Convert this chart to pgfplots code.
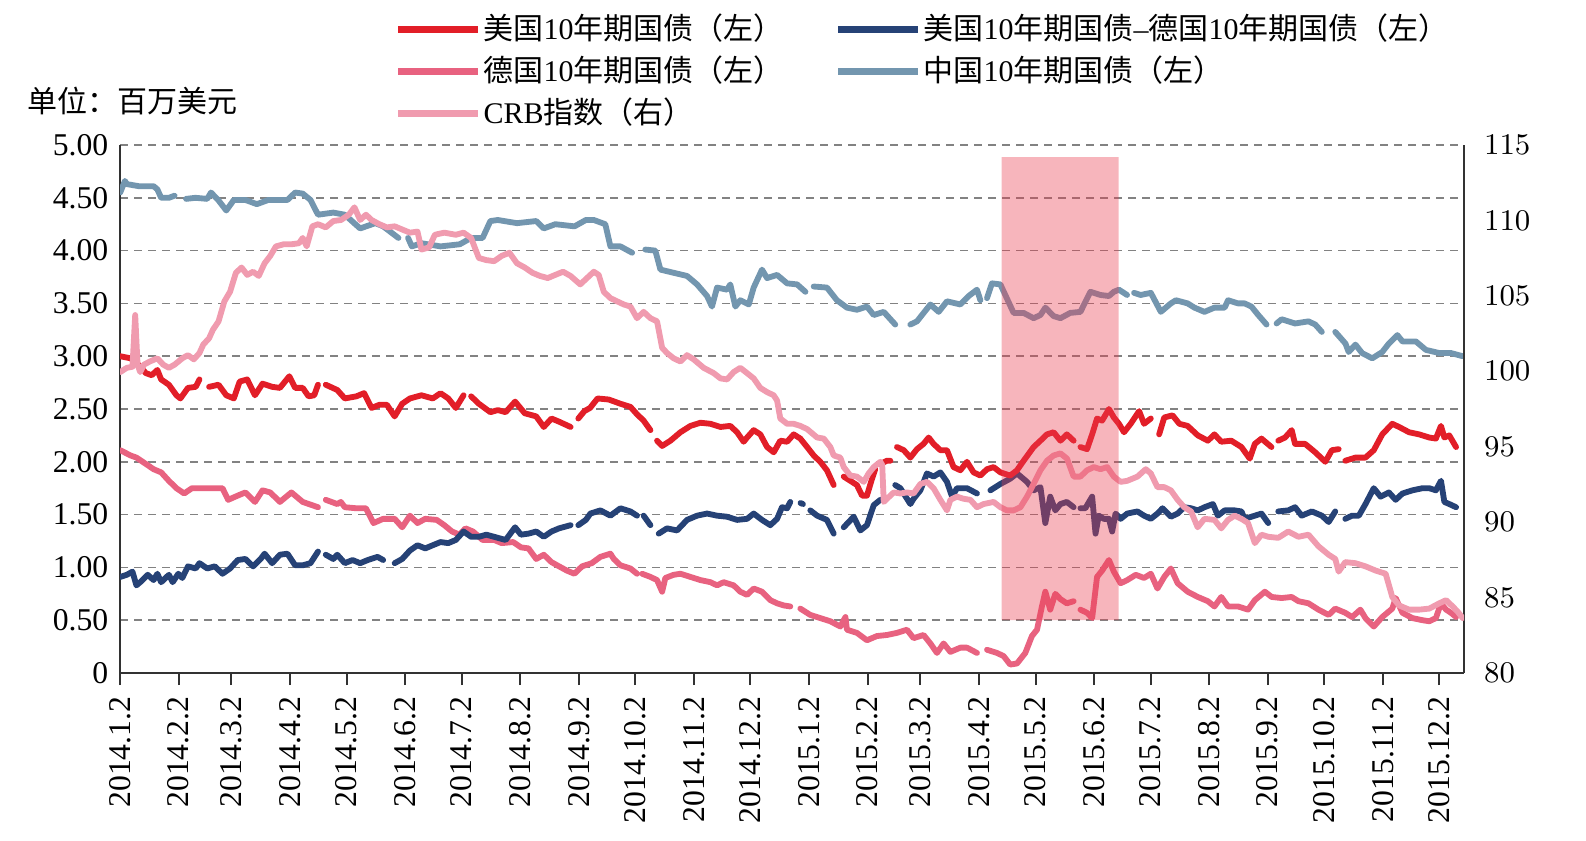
\documentclass[border=0pt]{standalone}
\usepackage{pgfplots}
\pgfplotsset{compat=1.18}
\usepackage{fontspec}
\setmainfont{Liberation Serif}
\newfontfamily\cjk{Noto Sans CJK SC}
\newcommand{\zh}[1]{{\cjk #1}}

\definecolor{usred}{RGB}{226,30,40}
\definecolor{dered}{RGB}{232,98,128}
\definecolor{crbpink}{RGB}{240,155,175}
\definecolor{spreadblue}{RGB}{38,66,118}
\definecolor{cnblue}{RGB}{115,150,175}
\definecolor{shade}{RGB}{235,60,80}
\definecolor{axisgray}{RGB}{50,50,50}
\definecolor{gridgray}{RGB}{130,130,130}

% x = calendar days counted from 2014-01-02
\pgfplotstableread{
x y
0.1 4.55
2.6 4.66
3.6 4.63
10 4.61
17.8 4.61
19.8 4.58
21.8 4.50
25.9 4.50
28.9 4.52
31 nan
35 4.49
40 4.50
46.2 4.49
48.2 4.55
52 4.48
56.3 4.38
60.3 4.48
66.4 4.48
72.5 4.44
78.6 4.48
88.7 4.48
92.8 4.55
96.8 4.54
100.9 4.48
104.9 4.34
113 4.36
119.1 4.34
127.2 4.21
135.3 4.26
139.4 4.23
147.5 4.12
150 nan
152.6 4.12
154.6 4.04
159.7 4.07
169.8 4.04
180 4.06
186 4.12
192.1 4.12
196.2 4.28
200.2 4.29
210.3 4.26
220.5 4.28
224.5 4.21
230.6 4.25
240.8 4.23
246.8 4.29
251 4.29
257.1 4.25
259.8 4.04
265.1 4.04
271.3 3.98
275 nan
278.3 4.01
283.6 4.00
286.3 3.82
293.3 3.79
300.4 3.76
305.7 3.68
311 3.57
313.6 3.47
316.3 3.65
321.6 3.63
323.3 3.68
326 3.47
328.6 3.53
333.1 3.49
335.7 3.65
340.1 3.82
342.8 3.74
348.1 3.77
353.4 3.69
358.7 3.68
363.1 3.61
365 nan
367.5 3.66
374.5 3.65
379.8 3.53
385.1 3.46
390.4 3.44
395.7 3.47
399.3 3.39
404.6 3.42
410.7 3.30
415 nan
418.7 3.30
422.2 3.33
429.3 3.49
433.7 3.42
438.1 3.52
445.2 3.49
449.6 3.57
454 3.63
455.8 3.53
457.5 nan
459.3 3.55
461.9 3.69
466.4 3.68
473.4 3.41
478.7 3.41
484 3.36
487.6 3.39
490.2 3.46
494.6 3.38
498.2 3.36
503.4 3.41
508.8 3.42
514.1 3.61
519.4 3.58
523.9 3.57
526.5 3.61
529.2 3.63
533.5 3.58
535.5 nan
537.2 3.60
540.7 3.58
546.1 3.60
551.4 3.42
556.7 3.50
559.4 3.53
565.6 3.50
569.2 3.46
574.5 3.42
579.8 3.46
585.2 3.46
587 3.53
592.3 3.50
595.8 3.50
599.4 3.47
603 3.39
607.4 3.30
610 nan
612.7 3.31
615.4 3.35
622.5 3.31
629.6 3.33
633.2 3.30
636.7 3.23
640 nan
643.8 3.23
649.2 3.12
650.9 3.04
654.5 3.11
658 3.03
663.4 2.98
668.7 3.04
672.2 3.12
676.7 3.20
679.4 3.14
686.5 3.14
691.8 3.06
698.9 3.03
705.1 3.03
711.3 3.00
}\cnbond

\pgfplotstableread{
x y
0.15 2.11
5.6 2.06
8.7 2.04
13.7 1.98
17.8 1.93
21.8 1.90
25.9 1.82
29.9 1.75
34 1.70
38.1 1.75
44.1 1.75
50.2 1.75
54.3 1.75
57.3 1.64
62.4 1.68
66.4 1.71
71.5 1.62
75.5 1.73
79.6 1.71
84.7 1.62
90.8 1.71
96.8 1.62
104.9 1.57
107 nan
109 1.64
115.1 1.60
117 1.62
119.1 1.57
125.2 1.56
130.3 1.56
134.3 1.42
139.4 1.46
145.5 1.46
149.5 1.38
153.6 1.49
157.6 1.42
161.7 1.46
167.8 1.45
171.8 1.40
175.9 1.34
179.9 1.31
183 1.37
187 1.34
192.1 1.26
198.2 1.26
202.2 1.23
208.3 1.24
212.4 1.19
216.4 1.18
220.5 1.08
224.5 1.12
228.6 1.05
232.6 1.01
236.7 0.97
240.7 0.94
244.8 1.01
249.9 1.04
254.5 1.10
259.8 1.13
261.6 1.08
265.1 1.02
270.4 0.99
273.9 0.94
275.2 nan
276.6 0.94
281 0.91
284.5 0.88
287.2 0.77
288.9 0.90
293.3 0.93
296.9 0.94
302.2 0.91
307.5 0.88
312.8 0.86
316.3 0.83
319.8 0.86
325.1 0.83
328.6 0.77
332.2 0.74
335.7 0.80
340.1 0.77
344.5 0.69
348.1 0.66
351.6 0.64
355.1 0.63
357.5 nan
360.4 0.61
365.7 0.55
371 0.52
376.3 0.49
381.6 0.44
384.3 0.53
385.1 0.41
390.4 0.38
395.7 0.31
401 0.35
406.3 0.36
411.6 0.38
416.9 0.41
420.4 0.33
425.7 0.36
429.3 0.28
432.8 0.19
436.3 0.28
439.9 0.20
445.2 0.24
448.7 0.24
454 0.19
456.5 nan
459.3 0.22
464.6 0.19
468.1 0.16
471.6 0.08
475.2 0.09
479.6 0.19
483.1 0.35
485.8 0.41
488.4 0.63
490.2 0.77
492.8 0.60
495.5 0.75
498.2 0.70
501.6 0.66
505.2 0.68
507 nan
508.8 0.60
512.3 0.57
515 0.52
517.6 0.91
520.3 0.97
523.9 1.07
526.5 0.96
530.1 0.85
533.6 0.88
538.1 0.93
542.5 0.90
546.1 0.94
549.6 0.80
553.2 0.91
556.7 0.99
560.3 0.85
565.6 0.77
571 0.72
576.3 0.68
579.8 0.63
583.4 0.72
587 0.63
592.3 0.63
597.6 0.60
601.2 0.69
606.5 0.77
610.1 0.72
615.4 0.71
620.7 0.72
624.3 0.68
629.6 0.66
634.9 0.60
640.3 0.55
643.8 0.61
649.1 0.57
652.7 0.53
657.1 0.60
659.8 0.52
664.2 0.44
668.7 0.53
674 0.61
675.8 0.71
679.4 0.57
684.7 0.52
690 0.50
693.6 0.49
697.1 0.52
699.8 0.66
702.5 0.60
705.1 0.57
707.8 0.53
}\debond

\pgfplotstableread{
x y
0.15 0.91
3.6 0.93
6.6 0.96
8.7 0.83
10.7 0.86
14.7 0.93
17.8 0.88
19.8 0.94
21.8 0.86
25.9 0.93
27.9 0.86
30.9 0.94
33 0.90
36 1.01
40.1 0.99
42.1 1.04
46.2 0.99
50.2 1.01
54.3 0.94
58.3 0.99
62.4 1.07
66.4 1.08
70.5 1.01
74.5 1.08
76.6 1.13
80.6 1.04
84.7 1.12
88.7 1.13
92.8 1.02
96.8 1.02
100.9 1.04
104.9 1.15
107 nan
109 1.12
113 1.08
115.1 1.12
119.1 1.04
123.2 1.07
127.2 1.04
131.3 1.07
136.4 1.10
139.4 1.07
142.5 nan
145.5 1.04
149.5 1.08
153.6 1.16
157.6 1.21
161.7 1.18
165.7 1.21
169.8 1.24
173.9 1.23
177.9 1.26
182 1.34
186 1.29
190.1 1.29
194.1 1.31
200.2 1.28
204.3 1.26
209.3 1.38
212.4 1.31
216.4 1.32
220.5 1.34
224.5 1.29
228.6 1.34
232.6 1.37
238.7 1.40
240.7 nan
242.8 1.40
246.8 1.45
249.2 1.51
254.5 1.54
259.8 1.49
265.1 1.56
270.4 1.53
273.9 1.49
275.6 nan
277.4 1.49
281 1.40
283.2 nan
285.4 1.32
289.8 1.37
295.1 1.35
300.4 1.45
305.7 1.49
311 1.51
316.3 1.49
321.6 1.48
326.9 1.45
332.2 1.46
335.7 1.51
340.1 1.45
344.5 1.40
348.1 1.46
350.7 1.57
353.4 1.56
355.1 1.62
357.8 nan
360.5 1.61
361.8 1.60
363.7 nan
365.7 1.54
369.3 1.49
374.5 1.45
378.1 1.32
380.7 nan
383.4 1.38
388.7 1.48
392.2 1.35
395.7 1.40
399.3 1.59
402.8 1.64
406.7 nan
410.7 1.78
413.4 1.75
418.7 1.60
420.4 1.65
424 1.73
427.5 1.89
431 1.86
434.6 1.90
438.1 1.81
440.8 1.67
443.4 1.75
448.7 1.75
454 1.70
457.5 nan
461.1 1.73
466.4 1.79
471.6 1.84
475.2 1.89
480.5 1.81
484 1.73
487.6 1.76
490.2 1.42
492.8 1.67
495.5 1.54
498.2 1.60
501.6 1.62
505.2 1.57
507 nan
508.8 1.56
511.4 1.56
515 1.67
516.8 1.32
518.5 1.49
521.2 1.46
523.9 1.46
525.6 1.34
527.4 1.51
530.1 1.46
533.6 1.51
539 1.53
542.5 1.49
546.1 1.46
549.6 1.51
552.3 1.56
556.7 1.48
560.3 1.51
563.8 1.57
567.4 1.56
571 1.54
574.5 1.57
579 1.60
581.6 1.49
585.2 1.54
590.5 1.54
594.1 1.53
595.8 1.46
599.4 1.48
604.7 1.51
608.3 1.42
611 nan
613.6 1.53
618.9 1.54
622.5 1.57
626 1.49
631.4 1.53
636.7 1.49
640.3 1.43
643.8 1.53
646.5 nan
649.1 1.46
652.7 1.49
656.3 1.49
659.8 1.60
664.2 1.75
667.8 1.67
672.2 1.71
675.8 1.64
679.4 1.70
684.7 1.73
690 1.75
693.6 1.75
697.1 1.73
699.8 1.82
701.6 1.62
704.2 1.60
707.8 1.57
}\spread

\pgfplotstableread{
x y
0 3.00
5.6 2.98
9.7 2.92
13.7 2.84
16.8 2.82
19.8 2.87
21.8 2.78
25.9 2.73
29.9 2.63
32 2.60
36 2.70
40.1 2.71
42.1 2.78
44.5 nan
47.2 2.71
52.2 2.73
56.3 2.63
60.3 2.60
63.4 2.76
67.4 2.78
71.5 2.63
75.5 2.74
80.6 2.71
84.7 2.70
89.7 2.81
92.8 2.70
96.8 2.70
99.9 2.62
102.9 2.63
104.9 2.73
107 nan
109 2.73
115.1 2.68
119.1 2.60
125.2 2.62
129.3 2.65
133.3 2.51
137.4 2.54
141.4 2.54
145.5 2.43
149.5 2.55
153.6 2.60
159.7 2.63
165.7 2.60
169.8 2.65
173.9 2.60
177.9 2.51
182 2.63
184 nan
186 2.62
190.1 2.55
196.2 2.47
200.2 2.49
204.3 2.47
209.3 2.57
214.4 2.46
220.5 2.43
224.5 2.33
228.6 2.41
232.6 2.38
238.7 2.33
240.7 nan
242.8 2.41
246 2.48
249 2.51
253 2.60
258.9 2.59
265.1 2.55
270.4 2.52
273.9 2.45
277.4 2.39
281 2.30
282.8 nan
284.5 2.20
287.2 2.15
291.6 2.20
296.9 2.28
302.2 2.34
307.5 2.37
312.8 2.36
318.1 2.33
323.3 2.34
326.9 2.28
330.4 2.19
332.2 2.23
335.7 2.30
339.2 2.26
342.8 2.14
346.3 2.09
349.8 2.20
353.4 2.19
356.9 2.26
360.4 2.22
364 2.14
367.5 2.06
371 2.00
374.5 1.92
378.1 1.78
380.7 nan
383.4 1.86
386.9 1.82
390.4 1.78
393.1 1.68
395.7 1.68
398.4 1.84
400.1 1.93
401.5 nan
402.8 1.98
406.3 2.01
408.1 2.01
409.8 nan
411.6 2.14
415.2 2.11
418.7 2.04
422.2 2.12
425.7 2.17
428.4 2.23
431 2.17
434.6 2.11
438.1 2.11
441.6 1.95
445.2 1.92
448.7 2.00
452.2 1.90
455.8 1.87
459.3 1.93
462.8 1.95
466.4 1.90
471.6 1.87
475.2 1.92
478.7 2.01
484 2.14
487.6 2.20
491.1 2.26
494.6 2.28
498.2 2.20
501.6 2.26
505.2 2.20
507 nan
508.8 2.14
512.3 2.12
515 2.26
517.6 2.41
520.3 2.39
523.9 2.50
526.5 2.42
529.2 2.36
531.9 2.28
535.4 2.36
539.9 2.48
542.5 2.36
546.1 2.41
548.3 nan
550.5 2.26
553.2 2.42
557.6 2.44
561.2 2.36
565.6 2.34
571 2.25
576.3 2.20
579.8 2.26
583.4 2.19
588.7 2.20
594.1 2.14
598.5 2.03
601.2 2.17
604.7 2.22
610 2.14
611.8 nan
613.6 2.20
617.2 2.23
620.7 2.30
622.5 2.17
627.8 2.17
633.2 2.09
638.5 2.00
642 2.11
645.6 2.12
647.3 nan
649.1 2.01
654.5 2.04
659.8 2.04
664.2 2.11
668.7 2.26
674 2.36
677.6 2.33
682.9 2.28
688.2 2.26
693.6 2.23
697.1 2.22
699.8 2.34
701.6 2.23
704.2 2.25
707.8 2.14
}\usbond

% CRB index, right axis
\pgfplotstableread{
x y
0.15 99.95
3.6 100.23
6.6 100.30
8.05 103.73
9.3 100.44
10.7 99.95
12.7 100.44
15.8 100.65
19.8 100.86
22.9 100.44
25.9 100.23
28.9 100.44
33 100.86
36 101.07
39.1 100.79
42.1 101.21
44.1 101.77
47.2 102.19
49.2 102.75
52.2 103.31
55.3 104.64
58.3 105.27
61.4 106.53
64.4 106.88
67.4 106.39
70.5 106.60
73.5 106.32
76.6 107.16
79.6 107.65
82.6 108.28
86.7 108.42
90.8 108.42
94.8 108.49
96.8 108.84
98.9 108.28
101.9 109.61
104.9 109.75
109 109.54
113 109.96
117.1 110.03
121.2 110.38
124.2 110.87
127.2 110.03
130.3 110.38
133.3 110.03
137.4 109.75
141.4 109.54
145.5 109.61
149.5 109.40
153.6 109.19
157.6 109.26
159.7 108.07
163.7 108.21
166.8 109.05
171.8 109.19
177.9 109.05
182 109.19
186 108.84
190.1 107.51
194.1 107.37
198.2 107.30
202.2 107.65
206.3 107.86
210.3 107.16
214.4 106.88
218.5 106.53
222.5 106.32
226.6 106.18
230.6 106.39
234.7 106.60
238.7 106.32
243.8 105.76
247.4 106.18
251 106.60
253.6 106.39
256.3 105.27
259.8 104.85
263.3 104.64
266.9 104.43
270.4 104.29
273.9 103.52
277.4 103.94
281 103.52
284.5 103.31
287.2 101.56
289.8 101.21
293.3 100.86
296.9 100.65
300.4 101.07
303.9 100.79
309.2 100.23
314.5 99.88
318.1 99.53
321.6 99.46
325.1 99.95
328.6 100.23
332.2 99.88
335.7 99.53
339.2 98.90
342.8 98.62
346.3 98.41
348.1 98.06
349.8 96.87
353.4 96.52
356.9 96.52
360.4 96.38
364 96.17
369.3 95.61
372.8 95.54
376.3 94.98
378.1 94.42
381.6 94.28
383.4 93.65
386.9 93.09
390.4 93.02
394 92.67
396.6 93.23
399.3 93.65
402.8 94.00
403.8 93.79
404.6 91.34
406.3 91.55
409.9 91.97
413.4 91.90
416.9 91.97
420.4 91.90
424 92.53
427.5 92.67
431 92.25
434.6 91.48
438.1 90.78
439.9 91.48
443.4 91.69
446.9 91.55
450.5 91.48
454 90.99
457.5 91.20
462.8 91.34
466.4 90.99
469.9 90.78
473.4 90.78
477 90.99
480.5 91.69
484 92.53
487.6 93.44
491.1 94.07
494.6 94.42
498.2 94.56
501.7 94.21
505.2 93.02
508.8 93.02
512.3 93.44
515.9 93.65
519.4 93.51
523 93.65
526.5 93.02
530.1 92.67
533.6 92.74
539 93.02
543.4 93.51
546.1 93.23
549.6 92.32
553.2 92.32
556.7 92.11
560.3 91.48
563.8 90.99
567.4 90.71
570.9 89.66
574.5 90.22
579.8 90.15
583.4 89.59
587 90.15
590.5 90.43
594.1 90.22
597.6 89.94
601.2 88.61
604.7 89.17
608.3 89.03
613.6 88.96
618.9 89.38
624.3 89.03
629.6 89.17
634.9 88.40
640.3 87.84
643.8 87.56
645.6 86.72
649.1 87.35
654.5 87.28
659.8 87.07
665.2 86.79
670.5 86.58
674 85.04
677.6 84.48
682.9 84.20
688.2 84.20
693.6 84.27
698.9 84.62
702.5 84.83
706 84.41
708.7 84.06
711.3 83.64
}\crb

\pgfplotsset{
  common/.style={
    at={(0,0)}, anchor=south west,
    scale only axis, width=403.2pt, height=158.4pt,
    xmin=0, xmax=712,
    axis line style={-, color=axisgray, line width=0.6pt},
    ytick style={draw=none},
    tick label style={font=\fontsize{9.5}{11}\selectfont},
    unbounded coords=jump,
    legend image code/.code={\draw[#1, line width=2.1pt] (0pt,0pt) -- (24pt,0pt);},
  },
  ser/.style={line width=1.75pt, line join=round, line cap=round, forget plot},
}

\begin{document}
\begin{tikzpicture}
\useasboundingbox (-36pt,-50.1pt) rectangle (439.8pt,201.9pt);

\begin{axis}[
  common,
  ymin=0, ymax=5,
  axis x line*=bottom, axis y line*=left,
  xtick={0,31,59,90,120,151,181,212,243,273,304,334,365,396,424,455,485,516,546,577,608,638,669,699},
  xticklabels={2014.1.2,2014.2.2,2014.3.2,2014.4.2,2014.5.2,2014.6.2,2014.7.2,2014.8.2,2014.9.2,2014.10.2,2014.11.2,2014.12.2,2015.1.2,2015.2.2,2015.3.2,2015.4.2,2015.5.2,2015.6.2,2015.7.2,2015.8.2,2015.9.2,2015.10.2,2015.11.2,2015.12.2},
  xticklabel style={rotate=90, anchor=east},
  xtick align=outside,
  xtick style={color=axisgray, line width=0.6pt},
  major tick length=3.6pt,
  ytick={0,0.5,1,1.5,2,2.5,3,3.5,4,4.5,5},
  yticklabels={0,0.50,1.00,1.50,2.00,2.50,3.00,3.50,4.00,4.50,5.00},
  ymajorgrids,
  grid style={gridgray, line width=0.45pt, dash pattern=on 2.3pt off 1.9pt},
  legend style={at={(0.2039,1.253)}, anchor=north west, draw=none, fill=none,
    inner sep=0pt, row sep=2.2pt, font=\fontsize{9}{10.5}\selectfont,
    nodes={inner sep=0.6pt}},
  legend cell align=left,
]
\addlegendimage{usred}
\addlegendentry{\zh{美国}10\zh{年期国债（左）}}
\addlegendimage{dered}
\addlegendentry{\zh{德国}10\zh{年期国债（左）}}
\addlegendimage{crbpink}
\addlegendentry{CRB\zh{指数（右）}}

\addplot[ser, cnblue] table {\cnbond};
\addplot[ser, dered] table {\debond};
\addplot[ser, spreadblue] table {\spread};
\addplot[ser, usred] table {\usbond};
\end{axis}

\begin{axis}[
  common,
  ymin=80, ymax=115,
  axis x line=none, axis y line*=right,
  ytick={80,85,90,95,100,105,110,115},
  yticklabel style={xshift=2.5pt},
  legend style={at={(0.5313,1.253)}, anchor=north west, draw=none, fill=none,
    inner sep=0pt, row sep=2.2pt, font=\fontsize{9}{10.5}\selectfont,
    nodes={inner sep=0.6pt}},
  legend cell align=left,
]
\addlegendimage{spreadblue}
\addlegendentry{\zh{美国}10\zh{年期国债}–\zh{德国}10\zh{年期国债（左）}}
\addlegendimage{cnblue}
\addlegendentry{\zh{中国}10\zh{年期国债（左）}}

\addplot[ser, crbpink] table {\crb};
% highlighted window, 2015.4.13 -- 2015.6.15
\addplot[draw=none, fill=shade, fill opacity=0.38, forget plot]
  coordinates {(467,83.5) (529,83.5) (529,114.2) (467,114.2) (467,83.5)};
\end{axis}

\node[anchor=west, inner sep=0pt, font=\fontsize{9}{10.5}\selectfont] at (-27.9pt,171.6pt) {\zh{单位：百万美元}};
\end{tikzpicture}
\end{document}
